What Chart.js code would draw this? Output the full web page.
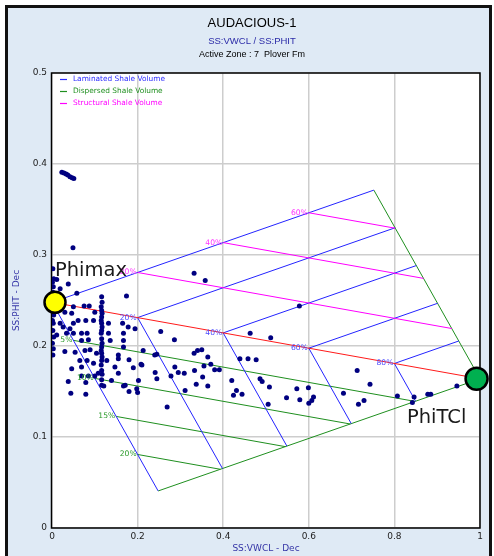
<!DOCTYPE html>
<html><head><meta charset="utf-8">
<script src="https://cdn.jsdelivr.net/npm/chart.js@4/dist/chart.umd.min.js"></script>
<style>html,body{margin:0;padding:0;background:#fff;}canvas{display:block;}</style>
</head><body>
<canvas id="c" width="494" height="556"></canvas>
<script>
// ---- tick labels ----
const xTicks = [0, 0.2, 0.4, 0.6, 0.8, 1];
const yTicks = [0, 0.1, 0.2, 0.3, 0.4, 0.5];

// ---- scatter data (SS:VWCL, SS:PHIT) ----
const vwcl = [
 0.023,0.028,0.033,0.037,0.042,0.047,0.051, 0.049,
 0.002,0.004,0.001,0.003,0.002,0.001,0.003,0.002,0.004,0.001,0.003,0.002,0.004,0.001,0.003,0.002,
 0.116,0.117,0.115,0.116,0.117,0.116,0.115,0.116,0.117,0.116,0.115,0.116,0.117,0.116,0.115,0.116,0.117,0.116,0.115,0.116,0.117,0.116,0.116,
 0.011,0.038,0.019,0.058,0.075,0.087,0.050,0.030,0.046,0.100,0.061,0.079,0.097,0.050,0.019,0.026,0.042,0.011,0.034,0.050,
 0.069,0.082,0.069,0.085,0.030,0.054,0.077,0.089,0.104,0.065,0.082,0.046,0.069,0.097,0.100,0.085,0.069,0.108,0.038,0.079,
 0.044,0.079,0.132,0.132,0.136,0.128,0.155,0.155,0.167,0.167,0.167,0.165,0.147,0.155,0.178,0.190,0.213,0.210,0.202,0.139,
 0.171,0.198,0.241,0.245,0.121,0.167,0.180,0.200,0.174,0.194,0.254,0.286,0.180,0.208,0.240,0.245,0.269,0.278,0.287,0.295,
 0.309,0.311,0.333,0.337,0.352,0.332,0.340,0.350,0.364,0.355,0.371,0.380,0.391,0.364,0.420,0.431,0.424,0.444,0.439,0.458,
 0.477,0.463,0.511,0.332,0.358,0.578,0.486,0.491,0.508,0.505,0.548,0.572,0.579,0.599,0.611,0.607,0.600,0.681,0.713,0.743,
 0.716,0.729,0.807,0.846,0.842,0.878,0.885,0.946
];
const phit = [
 0.391,0.390,0.389,0.388,0.386,0.385,0.384, 0.308,
 0.285,0.274,0.270,0.265,0.259,0.252,0.243,0.239,0.234,0.228,0.225,0.217,0.210,0.203,0.197,0.190,
 0.254,0.248,0.243,0.239,0.236,0.232,0.228,0.225,0.221,0.217,0.214,0.208,0.203,0.199,0.195,0.192,0.188,0.184,0.179,0.173,0.169,0.163,0.157,
 0.273,0.268,0.263,0.258,0.244,0.244,0.243,0.237,0.236,0.237,0.228,0.228,0.228,0.225,0.225,0.221,0.219,0.212,0.214,0.214,
 0.214,0.214,0.206,0.207,0.194,0.193,0.195,0.196,0.192,0.184,0.184,0.175,0.177,0.181,0.167,0.167,0.167,0.170,0.161,0.160,
 0.148,0.147,0.225,0.214,0.206,0.184,0.186,0.190,0.214,0.206,0.199,0.225,0.177,0.170,0.221,0.176,0.195,0.179,0.162,0.162,
 0.157,0.153,0.171,0.164,0.156,0.156,0.150,0.149,0.255,0.219,0.216,0.207,0.185,0.180,0.190,0.191,0.133,0.167,0.177,0.171,
 0.170,0.151,0.173,0.158,0.166,0.192,0.195,0.196,0.188,0.178,0.180,0.174,0.174,0.156,0.162,0.151,0.146,0.147,0.186,0.186,
 0.185,0.214,0.209,0.280,0.272,0.244,0.164,0.161,0.155,0.136,0.143,0.153,0.141,0.154,0.144,0.140,0.137,0.148,0.173,0.158,
 0.136,0.140,0.145,0.144,0.138,0.147,0.147,0.156
];

// ---- end-point markers ----
const phimaxPoint = [0.007, 0.248];
const phiTClPoint = [0.992, 0.164];

// ---- Thomas-Stieber construction segments [x1, y1, x2, y2] ----
const redSegs = [[0, 0.248, 1, 0.164]];
const blueSegs = [
 [0, 0.248, 0.752, 0.3713], [0, 0.248, 0.248, 0.0407],
 [0.2, 0.2312, 0.8016, 0.3299], [0.4, 0.2144, 0.8512, 0.2884], [0.6, 0.1976, 0.9008, 0.2469], [0.8, 0.1808, 0.9504, 0.2055],
 [0.2, 0.2312, 0.3984, 0.0653], [0.4, 0.2144, 0.5488, 0.0900], [0.6, 0.1976, 0.6992, 0.1147], [0.8, 0.1808, 0.8496, 0.1393]
];
const greenSegs = [
 [0.752, 0.3713, 1, 0.164], [0.248, 0.0407, 1, 0.164],
 [0.05, 0.2062, 0.8484, 0.1391], [0.1, 0.1644, 0.6968, 0.1143], [0.15, 0.1226, 0.5452, 0.0894], [0.2, 0.0808, 0.3935, 0.0645]
];
const magentaSegs = [
 [0.2, 0.2808, 0.934, 0.2192], [0.4, 0.3136, 0.8681, 0.2743], [0.6, 0.3464, 0.8021, 0.3294]
];

// ---- percentage labels [text, x, y] ----
const blueLabels = [['20%', 0.2, 0.2312], ['40%', 0.4, 0.2144], ['60%', 0.6, 0.1976], ['80%', 0.8, 0.1808]];
const magentaLabels = [['20%', 0.2, 0.2808], ['40%', 0.4, 0.3136], ['60%', 0.6, 0.3464]];
const greenLabels = [['5%', 0.05, 0.2062], ['10%', 0.1, 0.1644], ['15%', 0.15, 0.1226], ['20%', 0.2, 0.0808]];

const legendItems = [
 ['Laminated Shale Volume', '#2a2aff'],
 ['Dispersed Shale Volume', '#1f8f1f'],
 ['Structural Shale Volume', '#ff00ff']
];

const COL = { blue: '#2424ff', red: '#ff1a1a', green: '#1f8f1f', magenta: '#ff00ff' };

function segDatasets(segs, color) {
  return segs.map(s => ({
    data: [{x: s[0], y: s[1]}, {x: s[2], y: s[3]}],
    showLine: true, borderColor: color, borderWidth: 1, pointRadius: 0, fill: false
  }));
}

const datasets = [];
datasets.push({
  data: [{x: phimaxPoint[0], y: phimaxPoint[1]}],
  pointRadius: 10.5, backgroundColor: '#ffff00', borderColor: '#000', borderWidth: 2.5, clip: false
});
datasets.push({
  data: [{x: phiTClPoint[0], y: phiTClPoint[1]}],
  pointRadius: 11, backgroundColor: '#00b050', borderColor: '#000', borderWidth: 2.5, clip: false
});
datasets.push({
  data: vwcl.map((v, i) => ({x: v, y: phit[i]})),
  pointRadius: 2.5, backgroundColor: '#000080', borderWidth: 0, clip: 0
});
datasets.push(...segDatasets(redSegs, COL.red));
datasets.push(...segDatasets(magentaSegs, COL.magenta));
datasets.push(...segDatasets(blueSegs, COL.blue));
datasets.push(...segDatasets(greenSegs, COL.green));

const decor = {
  id: 'decor',
  beforeDraw(chart) {
    const ctx = chart.ctx, a = chart.chartArea;
    ctx.save();
    ctx.fillStyle = '#ffffff';
    ctx.fillRect(0, 0, chart.width, chart.height);
    ctx.fillStyle = '#dfeaf5';
    ctx.fillRect(6, 6, 485, 560);
    ctx.strokeStyle = '#111';
    ctx.lineWidth = 3;
    ctx.strokeRect(6.5, 6.5, 484, 560);
    ctx.fillStyle = '#ffffff';
    ctx.fillRect(a.left, a.top, a.right - a.left, a.bottom - a.top);
    ctx.textAlign = 'center';
    ctx.textBaseline = 'middle';
    ctx.fillStyle = '#000';
    ctx.font = '13px "Liberation Sans", Arial, sans-serif';
    ctx.fillText('AUDACIOUS-1', 252, 23.5);
    ctx.fillStyle = '#2b2ba8';
    ctx.font = '9.5px "Liberation Sans", Arial, sans-serif';
    ctx.fillText('SS:VWCL / SS:PHIT', 252, 41);
    ctx.fillStyle = '#000';
    ctx.font = '9px "Liberation Sans", Arial, sans-serif';
    ctx.fillText('Active Zone : 7  Plover Fm', 252, 54.5);
    ctx.restore();
  },
  beforeDatasetsDraw(chart) {
    const ctx = chart.ctx, a = chart.chartArea;
    ctx.save();
    ctx.strokeStyle = '#000';
    ctx.lineWidth = 1.5;
    ctx.strokeRect(a.left - 0.5, a.top, a.right - a.left + 0.5, a.bottom - a.top);
    ctx.restore();
  },
  afterDatasetsDraw(chart) {
    const ctx = chart.ctx, xs = chart.scales.x, ys = chart.scales.y;
    ctx.save();
    // legend
    ctx.font = '7.4px "DejaVu Sans", sans-serif';
    ctx.textAlign = 'left';
    ctx.textBaseline = 'middle';
    const rows = [79.5, 91.5, 103.5];
    legendItems.forEach((it, i) => {
      ctx.strokeStyle = it[1];
      ctx.lineWidth = 1.2;
      ctx.beginPath(); ctx.moveTo(60, rows[i]); ctx.lineTo(67, rows[i]); ctx.stroke();
      ctx.fillStyle = it[1];
      ctx.fillText(it[0], 73, rows[i]);
    });
    // percentage labels
    ctx.font = '7.6px "DejaVu Sans", sans-serif';
    ctx.textAlign = 'right';
    const draw = (list, color) => {
      ctx.fillStyle = color;
      list.forEach(l => ctx.fillText(l[0], xs.getPixelForValue(l[1]) - 1, ys.getPixelForValue(l[2])));
    };
    draw(blueLabels, '#4a4aff');
    draw(magentaLabels, '#ff33ff');
    draw(greenLabels, '#2a9a2a');
    ctx.restore();
  },
  afterDraw(chart) {
    const ctx = chart.ctx;
    ctx.save();
    ctx.fillStyle = '#1a1a1a';
    ctx.font = '19.5px "DejaVu Sans", sans-serif';
    ctx.textAlign = 'left';
    ctx.textBaseline = 'alphabetic';
    ctx.fillText('Phimax', 55, 275.5);
    ctx.fillText('PhiTCl', 407, 423);
    ctx.restore();
  }
};

const tickFont = { family: '"DejaVu Sans", sans-serif', size: 9 };
const titleFont = { family: '"DejaVu Sans", sans-serif', size: 9 };

new Chart(document.getElementById('c'), {
  type: 'scatter',
  data: { datasets },
  options: {
    responsive: false,
    devicePixelRatio: 1,
    animation: false,
    events: [],
    layout: { padding: { left: 0, right: 14, top: 73, bottom: 0 } },
    plugins: { legend: { display: false }, tooltip: { enabled: false } },
    scales: {
      x: {
        type: 'linear', min: 0, max: 1,
        afterBuildTicks: s => { s.ticks = xTicks.map(v => ({ value: v })); },
        afterFit: s => { s.height = 28; },
        ticks: { callback: v => String(v), font: tickFont, color: '#222', padding: 3, maxRotation: 0, autoSkip: false },
        grid: { color: '#cdcdcd', lineWidth: 1.5, drawTicks: false },
        border: { display: false },
        title: { display: true, text: 'SS:VWCL - Dec', color: '#3434a6', font: titleFont, padding: { top: 0, bottom: 2 } }
      },
      y: {
        type: 'linear', min: 0, max: 0.5,
        afterBuildTicks: s => { s.ticks = yTicks.map(v => ({ value: v })); },
        afterFit: s => { s.width = 52; },
        ticks: { callback: v => String(v), font: tickFont, color: '#222', padding: 5, autoSkip: false },
        grid: { color: '#cdcdcd', lineWidth: 1.5, drawTicks: false },
        border: { display: false },
        title: { display: true, text: 'SS:PHIT - Dec', color: '#3434a6', font: titleFont, padding: { top: 11, bottom: 0 } }
      }
    }
  },
  plugins: [decor]
});
</script>
</body></html>
